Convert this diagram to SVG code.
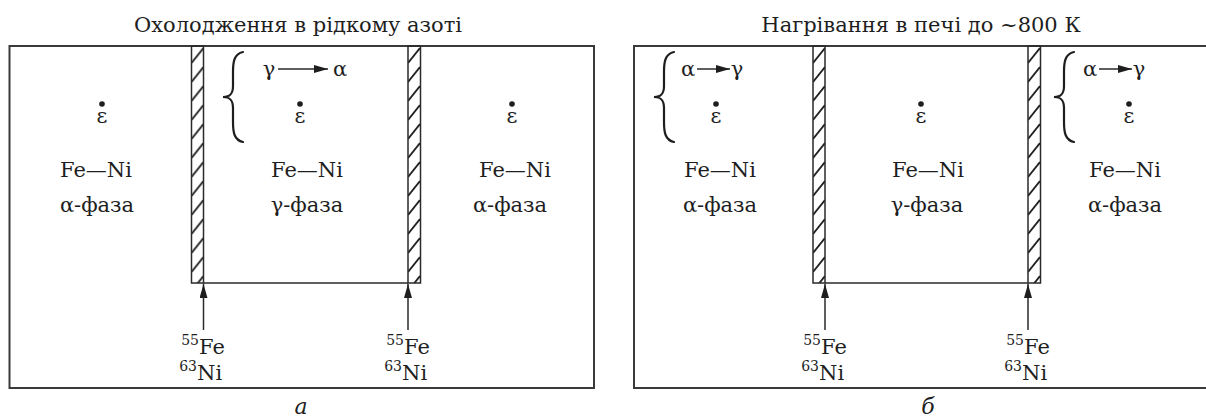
<svg xmlns="http://www.w3.org/2000/svg" width="1206" height="418" viewBox="0 0 1206 418">
<defs>
<style>
.t{fill:#1e1e1e;font-family:"DejaVu Serif","Noto Serif",serif;}
.title{font-size:21px;text-anchor:middle;}
.lbl{font-size:21px;text-anchor:middle;}
.sup{font-size:14px;text-anchor:end;}
.iso{font-size:21px;}
.cap{font-size:22px;font-style:italic;text-anchor:middle;}
.box{fill:none;stroke:#3a3a3a;stroke-width:2;}
.strip{fill:url(#hatch);stroke:#2a2a2a;stroke-width:1.5;}
.ln{stroke:#2a2a2a;stroke-width:1.5;fill:none;}
.brace{fill:none;stroke:#1e1e1e;stroke-width:2.2;stroke-linecap:round;}
.dot{fill:#1e1e1e;}
</style>
<pattern id="hatch" patternUnits="userSpaceOnUse" width="12" height="19">
<line x1="0" y1="17" x2="12" y2="2" stroke="#222" stroke-width="2"/>
</pattern>
<marker id="ah" markerWidth="14" markerHeight="8" refX="14" refY="4" orient="auto" markerUnits="userSpaceOnUse">
<path d="M0,0 L14,4 L0,8 Z" fill="#1e1e1e"/>
</marker>
</defs>

<g id="title-a"><text class="t title" x="298" y="32">Охолодження в рідкому азоті</text></g>
<g id="title-b"><text class="t title" x="921" y="32">Нагрівання в печі до ~800 К</text></g>

<!-- Panel a -->
<g id="panel-a">
<rect class="box" x="9.5" y="46" width="584.5" height="342"/>
<line class="ln" x1="203.5" y1="283" x2="408" y2="283"/>
<g transform="translate(191.5,46)"><rect class="strip" x="0" y="0" width="12" height="237"/></g>
<g transform="translate(408,46)"><rect class="strip" x="0" y="0" width="12.5" height="237"/></g>
</g>
<g id="a-left">
<text class="t lbl" x="102" y="123">ε</text><circle class="dot" cx="102" cy="104" r="2.8"/>
<text class="t lbl" x="96" y="177">Fe—Ni</text>
<text class="t lbl" x="97" y="212">α-фаза</text>
</g>
<g id="a-mid">
<path class="brace" d="M243,52 C234,54 233,62 233,72 L233,86 C233,94 230,97 223,97 C230,97 233,100 233,108 L233,122 C233,132 234,140 243,142"/>
<text class="t lbl" x="269" y="76">γ</text>
<text class="t lbl" x="340" y="76">α</text>
<text class="t lbl" x="300" y="123">ε</text><circle class="dot" cx="300" cy="104" r="2.8"/>
<text class="t lbl" x="307" y="177">Fe—Ni</text>
<text class="t lbl" x="307" y="212">γ-фаза</text>
</g>
<g id="a-right">
<text class="t lbl" x="512" y="123">ε</text><circle class="dot" cx="512" cy="104" r="2.8"/>
<text class="t lbl" x="515" y="177">Fe—Ni</text>
<text class="t lbl" x="510" y="212">α-фаза</text>
</g>
<g id="a-src1">
<text class="t sup" x="199" y="345">55</text><text class="t iso" x="199" y="354">Fe</text>
<text class="t sup" x="197" y="371">63</text><text class="t iso" x="197" y="380">Ni</text>
</g>
<g id="a-src2">
<text class="t sup" x="404" y="345">55</text><text class="t iso" x="404" y="354">Fe</text>
<text class="t sup" x="402" y="371">63</text><text class="t iso" x="402" y="380">Ni</text>
</g>
<g id="cap-a"><text class="t cap" x="301" y="414">а</text></g>

<!-- Panel b -->
<g id="panel-b">
<rect class="box" x="634" y="46" width="580" height="342"/>
<line class="ln" x1="825" y1="283" x2="1028" y2="283"/>
<g transform="translate(813,46)"><rect class="strip" x="0" y="0" width="12" height="237"/></g>
<g transform="translate(1028,46)"><rect class="strip" x="0" y="0" width="12.5" height="237"/></g>
</g>
<g id="b-left">
<path class="brace" d="M674,52 C665,54 664,62 664,72 L664,86 C664,94 661,97 654,97 C661,97 664,100 664,108 L664,122 C664,132 665,140 674,142"/>
<text class="t lbl" x="688" y="76">α</text>
<text class="t lbl" x="737" y="76">γ</text>
<text class="t lbl" x="716" y="123">ε</text><circle class="dot" cx="716" cy="104" r="2.8"/>
<text class="t lbl" x="720" y="177">Fe—Ni</text>
<text class="t lbl" x="720" y="212">α-фаза</text>
</g>
<g id="b-mid">
<text class="t lbl" x="921" y="123">ε</text><circle class="dot" cx="921" cy="104" r="2.8"/>
<text class="t lbl" x="928" y="177">Fe—Ni</text>
<text class="t lbl" x="927" y="212">γ-фаза</text>
</g>
<g id="b-right">
<path class="brace" d="M1074,52 C1065,54 1064,62 1064,72 L1064,86 C1064,94 1061,97 1054,97 C1061,97 1064,100 1064,108 L1064,122 C1064,132 1065,140 1074,142"/>
<text class="t lbl" x="1090" y="76">α</text>
<text class="t lbl" x="1139" y="76">γ</text>
<text class="t lbl" x="1129" y="123">ε</text><circle class="dot" cx="1129" cy="104" r="2.8"/>
<text class="t lbl" x="1125" y="177">Fe—Ni</text>
<text class="t lbl" x="1125" y="212">α-фаза</text>
</g>
<g id="b-src1">
<text class="t sup" x="821" y="345">55</text><text class="t iso" x="821" y="354">Fe</text>
<text class="t sup" x="819" y="371">63</text><text class="t iso" x="819" y="380">Ni</text>
</g>
<g id="b-src2">
<text class="t sup" x="1024" y="345">55</text><text class="t iso" x="1024" y="354">Fe</text>
<text class="t sup" x="1022" y="371">63</text><text class="t iso" x="1022" y="380">Ni</text>
</g>
<g id="cap-b"><text class="t cap" x="928" y="414">б</text></g>

<g id="connectors">
<line class="ln" x1="278" y1="69" x2="328" y2="69" marker-end="url(#ah)"/>
<line class="ln" x1="697" y1="69" x2="730" y2="69" marker-end="url(#ah)"/>
<line class="ln" x1="1099" y1="69" x2="1132" y2="69" marker-end="url(#ah)"/>
<line class="ln" x1="203.5" y1="330" x2="203.5" y2="284" marker-end="url(#ah)"/>
<line class="ln" x1="408" y1="330" x2="408" y2="284" marker-end="url(#ah)"/>
<line class="ln" x1="825" y1="330" x2="825" y2="284" marker-end="url(#ah)"/>
<line class="ln" x1="1028" y1="330" x2="1028" y2="284" marker-end="url(#ah)"/>
</g>
</svg>
